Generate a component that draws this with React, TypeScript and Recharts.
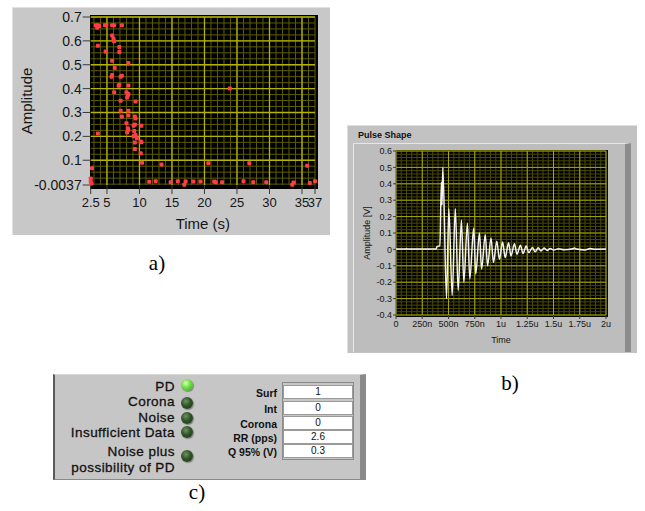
import React from 'react'
import { ScatterChart, Scatter, LineChart, Line, XAxis, YAxis, ReferenceLine } from 'recharts'

// a) amplitude vs time (scatter)
const timeS = [
  3.3, 3.5, 3.6, 3.8, 4.7, 4.9, 5.8, 6.1, 7.3, 3.6, 4.8, 5.8, 6.0, 6.1, 6.9, 6.9, 5.8, 8.3, 6.2, 5.8,
  5.7, 7.1, 7.3, 6.9, 6.8, 8.3, 6.1, 23.9, 8.2, 8.1, 8.3, 8.0, 7.1, 9.4, 8.3, 7.1, 9.3, 9.4, 7.3, 8.3,
  10.3, 9.1, 9.3, 8.0, 8.2, 8.3, 3.6, 8.1, 9.2, 9.4, 9.1, 9.6, 10.2, 10.3, 9.3, 9.3, 10.2, 10.4, 13.4, 20.6,
  26.9, 35.8, 2.7, 2.5, 2.5, 2.6, 11.5, 12.5, 14.8, 15.9, 17.1, 18.3, 19.4, 21.5, 21.7, 22.7, 26.0, 27.5, 29.5, 33.7,
  36.2, 37.0, 16.9, 33.5,
]
const amplitude = [
  0.665, 0.655, 0.665, 0.662, 0.665, 0.665, 0.665, 0.665, 0.665, 0.58, 0.556, 0.623, 0.61, 0.598, 0.574, 0.553, 0.517, 0.507, 0.486, 0.457,
  0.45, 0.45, 0.454, 0.416, 0.412, 0.413, 0.385, 0.4, 0.37, 0.363, 0.377, 0.385, 0.349, 0.346, 0.307, 0.307, 0.283, 0.275, 0.283, 0.287,
  0.245, 0.244, 0.25, 0.255, 0.234, 0.227, 0.212, 0.216, 0.223, 0.206, 0.2, 0.192, 0.178, 0.175, 0.174, 0.147, 0.129, 0.09, 0.082, 0.087,
  0.087, 0.077, 0.066, 0.024, 0.01, 0.003, 0.01, 0.012, 0.008, 0.012, 0.011, 0.011, 0.011, 0.011, 0.008, 0.008, 0.012, 0.008, 0.008, 0.007,
  0.005, 0.012, -0.003, -0.003,
]
const aTicksX = [2.5, 5, 10, 15, 20, 25, 30, 35, 37]
const aTicksY = [-0.0037, 0.1, 0.2, 0.3, 0.4, 0.5, 0.6, 0.7]

// b) pulse shape, time in ns
const pulseTimeNs = [
  0, 95, 100, 105, 380, 392, 418, 432, 438, 446, 481, 503, 535, 565, 592, 623, 646, 680, 703, 740,
  759, 795, 815, 850, 872, 905, 928, 960, 985, 1015, 1040, 1072, 1095, 1128, 1152, 1185, 1210, 1240, 1265, 1300,
  1325, 1355, 1380, 1410, 1440, 1470, 1500, 1550, 1600, 1680, 1700, 1720, 1800, 1850, 1900, 2000,
]
const pulseAmp = [
  0.003, 0.003, 0.006, 0.003, 0.003, 0.018, 0.022, 0.41, 0.27, 0.5, -0.3, 0.25, -0.28, 0.25, -0.25, 0.18, -0.2, 0.16, -0.18, 0.13,
  -0.15, 0.1, -0.12, 0.09, -0.1, 0.07, -0.08, 0.05, -0.06, 0.045, -0.05, 0.04, -0.04, 0.035, -0.03, 0.025, -0.025, 0.02, -0.02, 0.012,
  -0.015, 0.01, -0.01, 0.008, -0.006, 0.006, -0.004, 0.004, -0.002, 0.004, 0.008, 0.002, -0.003, 0.005, 0.001, 0.002,
]
const bTicksX = [0, 250, 500, 750, 1000, 1250, 1500, 1750, 2000]
const bTickLabels = ['0', '250n', '500n', '750n', '1u', '1.25u', '1.5u', '1.75u', '2u']
const bTicksY = [-0.4, -0.3, -0.2, -0.1, 0, 0.1, 0.2, 0.3, 0.4, 0.5, 0.6]

// c) indicators and values
const indicatorLabels = ['PD', 'Corona', 'Noise', 'Insufficient Data', 'Noise plus\npossibility of PD']
const indicatorOn = [true, false, false, false, false]
const fieldLabels = ['Surf', 'Int', 'Corona', 'RR (pps)', 'Q 95% (V)']
const fieldValues = ['1', '0', '0', '2.6', '0.3']

const scatterData = timeS.map((t, i) => ({ x: t, y: amplitude[i] }))
const pulseData = pulseTimeNs.map((t, i) => ({ t, v: pulseAmp[i] }))

function steps(from: number, to: number, step: number) {
  const out: number[] = []
  for (let v = from; v <= to + 1e-9; v += step) out.push(Math.round(v * 10000) / 10000)
  return out
}

const aMinorX = steps(3, 37, 1)
const aMajorX = steps(5, 35, 5)
const aMinorY = steps(0, 0.7, 0.025)
const aMajorY = steps(0.1, 0.7, 0.1)
const bMinorX = steps(0, 2000, 50)
const bMajorX = steps(0, 2000, 250)
const bMinorY = steps(-0.4, 0.6, 0.02)
const bMajorY = steps(-0.4, 0.6, 0.1)

const FONT = 'Arial, "Liberation Sans", sans-serif'

const dot = (props: any) => (
  <rect x={props.cx - 2} y={props.cy - 2} width={4} height={4} rx={1} fill="#ff3d45" />
)

function PanelA() {
  return (
    <div style={{ position: 'absolute', left: 12, top: 7, width: 318, height: 228, background: '#c8c8c8', borderTop: '1px solid #e2e2e2', borderLeft: '1px solid #e2e2e2', boxSizing: 'border-box' }}>
      <div style={{ position: 'absolute', left: 76.5, top: 7, width: 228, height: 174, background: '#000' }} />
      <div style={{ position: 'absolute', left: -1, top: -1 }}>
        <ScatterChart width={318} height={228} margin={{ top: 10, right: 15, bottom: 0, left: 0 }}>
          <XAxis
            dataKey="x" type="number" domain={[2.5, 37]} ticks={aTicksX} interval={0}
            height={50} tickSize={9} tickMargin={4} axisLine={false}
            tick={{ fill: '#161616', fontSize: 13, fontFamily: FONT }} tickLine={{ stroke: '#3a3a3a' }}
            label={{ value: 'Time (s)', position: 'insideBottom', offset: 6, fill: '#161616', fontSize: 15, fontFamily: FONT }}
          />
          <YAxis
            dataKey="y" type="number" domain={[-0.0037, 0.7]} ticks={aTicksY} interval={0}
            width={78.7} tickSize={8} tickMargin={1} axisLine={false}
            tick={{ fill: '#161616', fontSize: 14, fontFamily: FONT }} tickLine={{ stroke: '#3a3a3a' }}
            label={{ value: 'Amplitude', angle: -90, position: 'insideLeft', offset: 15, fill: '#161616', fontSize: 15, fontFamily: FONT, style: { textAnchor: 'middle' } }}
          />
          {aMinorX.map(v => <ReferenceLine key={'mx' + v} x={v} stroke="#5c5c00" strokeWidth={1} />)}
          {aMinorY.map(v => <ReferenceLine key={'my' + v} y={v} stroke="#5c5c00" strokeWidth={1} />)}
          {aMajorX.map(v => <ReferenceLine key={'Mx' + v} x={v} stroke="#b4b400" strokeWidth={1.3} />)}
          {aMajorY.map(v => <ReferenceLine key={'My' + v} y={v} stroke="#b4b400" strokeWidth={1.3} />)}
          <Scatter data={scatterData} shape={dot} isAnimationActive={false} />
        </ScatterChart>
      </div>
    </div>
  )
}

function PanelB() {
  return (
    <div style={{ position: 'absolute', left: 347, top: 125, width: 290, height: 228, background: '#c2c2c2', borderTop: '1px solid #dedede', borderLeft: '1px solid #dedede', boxSizing: 'border-box' }}>
      <div style={{ position: 'absolute', left: 10, top: 4, fontSize: 9, fontWeight: 'bold', fontFamily: FONT, color: '#111' }}>Pulse Shape</div>
      <div style={{ position: 'absolute', left: 5, top: 17, width: 278, height: 209, background: '#bdbdbd', borderTop: '1px solid #e6e6e6', borderLeft: '1px solid #e6e6e6', borderRight: '6px solid #8c8c8c', boxSizing: 'border-box' }} />
      <div style={{ position: 'absolute', left: 48, top: 24, width: 212, height: 167, background: '#000' }} />
      <div style={{ position: 'absolute', left: 5, top: 17 }}>
        <LineChart width={271} height={208} data={pulseData} margin={{ top: 8, right: 18, bottom: 0, left: 0 }}>
          <XAxis
            dataKey="t" type="number" domain={[0, 2000]} ticks={bTicksX} interval={0}
            tickFormatter={(v: number) => bTickLabels[bTicksX.indexOf(v)]}
            height={36} tickSize={4} tickMargin={2} axisLine={false}
            tick={{ fill: '#161616', fontSize: 9, fontFamily: FONT }} tickLine={{ stroke: '#3a3a3a' }}
            label={{ value: 'Time', position: 'insideBottom', offset: 8, fill: '#161616', fontSize: 9, fontFamily: FONT }}
          />
          <YAxis
            type="number" domain={[-0.4, 0.6]} ticks={bTicksY} interval={0}
            tickFormatter={(v: number) => String(v)}
            width={43} tickSize={3} tickMargin={1} axisLine={false}
            tick={{ fill: '#161616', fontSize: 9, fontFamily: FONT }} tickLine={{ stroke: '#3a3a3a' }}
            label={{ value: 'Amplitude [V]', angle: -90, position: 'insideLeft', offset: 14, fill: '#161616', fontSize: 9, fontFamily: FONT, style: { textAnchor: 'middle' } }}
          />
          {bMinorX.map(v => <ReferenceLine key={'mx' + v} x={v} stroke="#4a4a00" strokeWidth={1} />)}
          {bMinorY.map(v => <ReferenceLine key={'my' + v} y={v} stroke="#4a4a00" strokeWidth={1} />)}
          {bMajorX.map(v => <ReferenceLine key={'Mx' + v} x={v} stroke="#a8a800" strokeWidth={1} />)}
          {bMajorY.map(v => <ReferenceLine key={'My' + v} y={v} stroke="#a8a800" strokeWidth={1} />)}
          <Line type="monotone" dataKey="v" stroke="#f2f2f2" strokeWidth={1.5} dot={false} isAnimationActive={false} />
        </LineChart>
      </div>
    </div>
  )
}

function Led({ on }: { on: boolean }) {
  return (
    <div style={{
      width: 12, height: 12, borderRadius: '50%',
      background: on
        ? 'radial-gradient(circle at 40% 35%, #e4ffc8 0%, #7ae84e 35%, #2c9a1e 100%)'
        : 'radial-gradient(circle at 40% 35%, #6f9262 0%, #2f5327 45%, #1b3316 100%)',
      boxShadow: '1px 1px 1px rgba(0,0,0,0.35)',
    }} />
  )
}

// panel c inner origin is (55, 375), inner width 305
function PanelC() {
  const labelTops = [378.5, 394, 409.5, 425, 443.5]
  const ledTops = [379, 397, 412, 426, 450]
  const rowTops = [385, 401, 416, 430, 444]
  return (
    <div style={{ position: 'absolute', left: 53, top: 374, width: 313, height: 106, background: '#c6c6c6', borderLeft: '2px solid #5a5a5a', borderTop: '1px solid #d8d8d8', borderRight: '6px solid #8a8a8a', borderBottom: '1px solid #8a8a8a', boxSizing: 'border-box', fontFamily: FONT }}>
      {indicatorLabels.map((lab, i) => (
        <div key={lab} style={{ position: 'absolute', right: 360 - 175, top: labelTops[i] - 375, textAlign: 'right', fontSize: 13.5, letterSpacing: 0.45, lineHeight: i === 4 ? '16px' : '15px', color: '#111', whiteSpace: 'pre', WebkitTextStroke: '0.3px #111' }}>
          {lab}
        </div>
      ))}
      {indicatorOn.map((on, i) => (
        <div key={i} style={{ position: 'absolute', left: 181 - 55, top: ledTops[i] - 375 }}>
          <Led on={on} />
        </div>
      ))}
      {fieldLabels.map((lab, i) => (
        <div key={lab} style={{ position: 'absolute', right: 360 - 277, top: rowTops[i] - 375 + 1, fontSize: 10.5, fontWeight: 'bold', lineHeight: '14px', color: '#111', whiteSpace: 'nowrap' }}>
          {lab}
        </div>
      ))}
      <div style={{ position: 'absolute', left: 227, top: 7, width: 72, height: 78, border: '1px solid #8a8a8a', boxSizing: 'border-box' }} />
      {fieldValues.map((v, i) => (
        <div key={i} style={{ position: 'absolute', left: 228, top: rowTops[i] - 375, width: 70, height: 14, background: '#fff', border: '1px solid #9a9a9a', boxSizing: 'border-box', fontSize: 10, lineHeight: '12px', textAlign: 'center', color: '#111' }}>
          {v}
        </div>
      ))}
    </div>
  )
}

function Caption({ x, y, text }: { x: number; y: number; text: string }) {
  return (
    <div style={{ position: 'absolute', left: x - 20, top: y - 12, width: 40, textAlign: 'center', fontFamily: '"Liberation Serif", "Times New Roman", serif', fontSize: 21, lineHeight: '24px', color: '#000' }}>
      {text}
    </div>
  )
}

export default function App() {
  return (
    <div style={{ position: 'absolute', left: 0, top: 0, width: 645, height: 511, background: '#fff', overflow: 'hidden' }}>
      <PanelA />
      <PanelB />
      <PanelC />
      <Caption x={157} y={263} text="a)" />
      <Caption x={510} y={383} text="b)" />
      <Caption x={197} y={492} text="c)" />
    </div>
  )
}
